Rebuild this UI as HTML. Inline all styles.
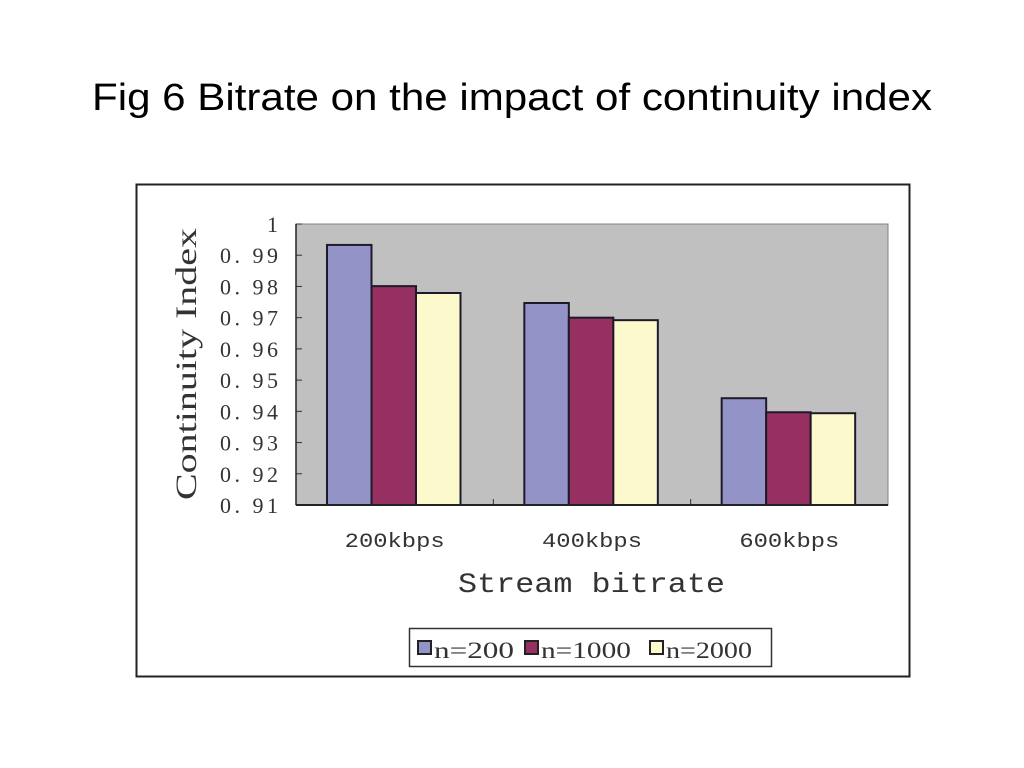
<!DOCTYPE html>
<html><head><meta charset="utf-8"><style>
body{margin:0;background:#fff;width:1024px;height:768px;overflow:hidden}
svg{display:block}
</style></head><body>
<svg id="chart" width="1024" height="768">
<text x="92" y="110" textLength="840" lengthAdjust="spacingAndGlyphs" font-family="Liberation Sans, sans-serif" font-size="38" fill="#000">Fig 6 Bitrate on the impact of continuity index</text>
<rect x="136.5" y="184.5" width="773" height="492" fill="#fff" stroke="#222" stroke-width="2"/>
<g id="plot"></g>
<text transform="translate(196,500) rotate(-90)" textLength="272" lengthAdjust="spacingAndGlyphs" font-family="Liberation Serif, serif" font-size="30" fill="#333">Continuity Index</text>
<text x="458" y="592" textLength="267" lengthAdjust="spacingAndGlyphs" font-family="Liberation Mono, monospace" font-size="28" fill="#333">Stream bitrate</text>
<g>
<rect x="409.5" y="628.5" width="362" height="38" fill="#fff" stroke="#333" stroke-width="1.5"/>
<g id="legend"></g>
</g>
</svg>
<script>
const categories=["200kbps","400kbps","600kbps"];
const seriesNames=["n=200","n=1000","n=2000"];
const s200=[0.9933,0.9747,0.9442];
const s1000=[0.9801,0.9700,0.9397];
const s2000=[0.9779,0.9692,0.9394];
const yTicks=[0.91,0.92,0.93,0.94,0.95,0.96,0.97,0.98,0.99,1];
const yTickLabels=["0. 91","0. 92","0. 93","0. 94","0. 95","0. 96","0. 97","0. 98","0. 99","1"];
const colors=["#9393c8","#963060","#fcf9cc"];
const series=[s200,s1000,s2000];
const NS="http://www.w3.org/2000/svg";
const X0=296,X1=888,Y0=505,Y1=224,YMIN=0.91,YMAX=1;
const y=v=>Y0-(v-YMIN)/(YMAX-YMIN)*(Y0-Y1);
const catW=(X1-X0)/categories.length;
const barW=44.5;
const x=(ci,si)=>X0+ci*catW+31+si*barW;
const g=document.getElementById('plot');
function mk(t,a,p){const e=document.createElementNS(NS,t);for(const k in a)e.setAttribute(k,a[k]);(p||g).appendChild(e);return e;}
const bg=mk('rect',{x:X0,y:Y1,width:X1-X0,height:Y0-Y1,fill:'#c0c0c0',stroke:'#808080','stroke-width':1});


yTicks.forEach((t,i)=>{
  const l=mk('line',{x1:X0,x2:X0+6,y1:y(t),y2:y(t),stroke:'#333'});
  
  
  const a={x:278,y:y(t)+8,'text-anchor':'end','font-family':'Liberation Serif, serif','font-size':22,fill:'#333'};
  if(yTickLabels[i].length>2){a.textLength=58;a.lengthAdjust='spacing';a['text-anchor']='start';a.x=220;}
  const tx=mk('text',a);
  tx.textContent=yTickLabels[i];
  
  
});
categories.forEach((c,ci)=>{
  if(ci>0){const l=mk('line',{x1:X0+ci*catW,x2:X0+ci*catW,y1:Y0,y2:Y0-6,stroke:'#333'});
  
  }
  series.forEach((s,si)=>{
    const r=mk('rect',{x:x(ci,si),y:y(s[ci]),width:barW,height:Y0-y(s[ci]),fill:colors[si],stroke:'#1e1a2a','stroke-width':2});
    
    
  });
  const t=mk('text',{x:X0+(ci+0.5)*catW-50,y:547,textLength:100,lengthAdjust:'spacingAndGlyphs','font-family':'Liberation Mono, monospace','font-size':20,fill:'#333'});
  t.textContent=c;
  
  
});
mk('line',{x1:X0,x2:X1,y1:Y0,y2:Y0,stroke:'#222','stroke-width':2});
mk('line',{x1:X0,x2:X0,y1:Y1,y2:Y0,stroke:'#222','stroke-width':1.5});
const lg=document.getElementById('legend');
const lx=[418,525,650];
const lw=[80,90,86];
seriesNames.forEach((n,i)=>{
  const r=mk('rect',{x:lx[i],y:641,width:13,height:13,fill:colors[i],stroke:'#222','stroke-width':2},lg);
  
  
  const t=mk('text',{x:lx[i]+16,y:658,textLength:lw[i],lengthAdjust:'spacingAndGlyphs','font-family':'Liberation Serif, serif','font-size':23,fill:'#333'},lg);
  t.textContent=n;
  
  
});
</script>
</body></html>
